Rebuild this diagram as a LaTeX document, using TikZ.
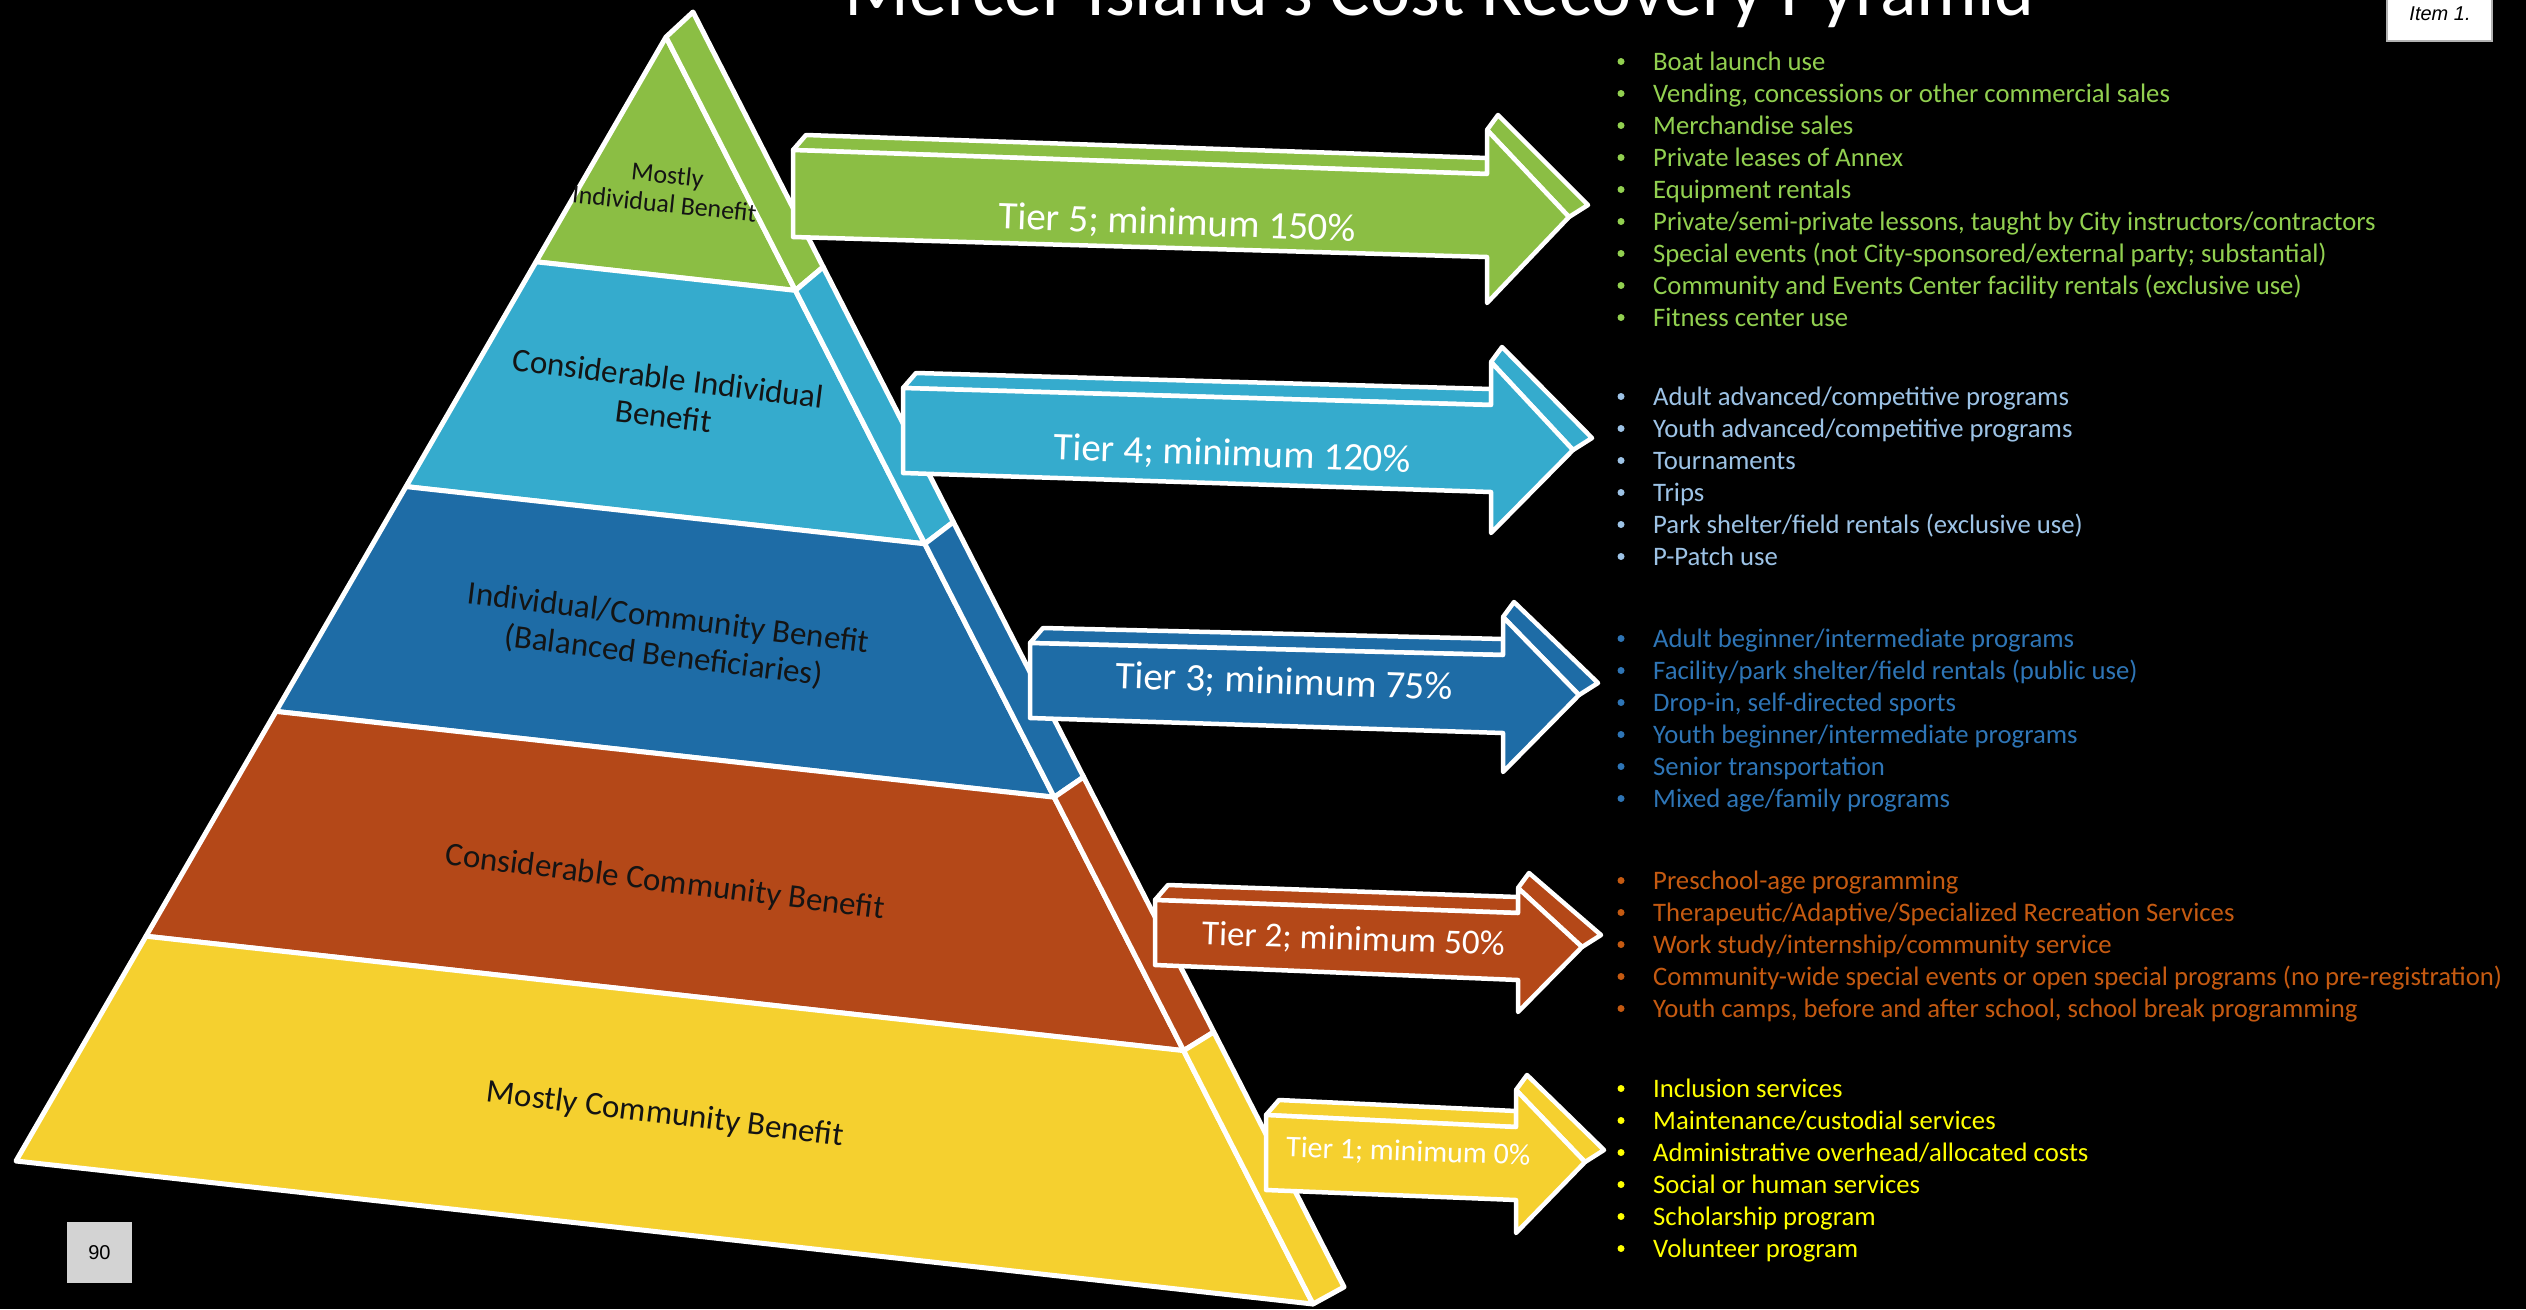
\documentclass[tikz,border=0pt]{standalone}
\usepackage{fontspec}
\setmainfont{Carlito}
\newfontfamily\arialf{Liberation Sans}
\usetikzlibrary{calc}
\definecolor{tgreen}{RGB}{139,190,68}
\definecolor{tlblue}{RGB}{53,171,205}
\definecolor{tblue}{RGB}{30,108,166}
\definecolor{torange}{RGB}{180,72,24}
\definecolor{tyellow}{RGB}{245,208,47}
\definecolor{lgreen}{RGB}{146,208,80}
\definecolor{llblue}{RGB}{157,195,230}
\definecolor{lblue}{RGB}{46,117,182}
\definecolor{lorange}{RGB}{197,90,17}
\definecolor{lyellow}{RGB}{255,255,0}
\definecolor{labeltext}{RGB}{20,20,20}
\definecolor{boxgray}{RGB}{211,211,211}
\newcommand\tierlist[4]{%
  \foreach \t [count=\i from 0] in {#3} {
    \node[bulletdot, fill=#1] (#4b\i) at (1621, #2+32*\i-8.5) {};
    \node[listitem, text=#1] (#4t\i) at (1653, #2+32*\i) {\t};
  }%
}
\begin{document}
\begin{tikzpicture}[x=1pt,y=-1pt,
  piece/.style={draw=white,line width=5pt,line join=round},
  arrowface/.style={draw=white,line width=4.5pt,line join=round},
  tierlabel/.style={text=labeltext,align=center,inner sep=0pt,rotate=-7},
  arrowlabel/.style={text=white,inner sep=0pt,anchor=base,rotate=-2},
  listitem/.style={anchor=base west,inner sep=0pt,font=\fontsize{26.7}{32}\selectfont},
  bulletdot/.style={circle,inner sep=0pt,minimum size=7pt}]
\useasboundingbox (0,0) rectangle (2526,1309);
\fill[black] (0,0) rectangle (2526,1309);

% title (cut by the top edge)
\node[anchor=base west, inner sep=0pt, text=white, font=\fontsize{76}{80}\selectfont] (title) at (844,16) {Mercer Island's Cost Recovery Pyramid};

% pyramid
\coordinate (T) at (666,37);
\coordinate (L) at (16,1161);
\coordinate (R) at (1313,1304);
\coordinate (Tb) at (693,12);
\coordinate (Rb) at (1344,1287);
\foreach \a/\b/\c in {0/0.2/tgreen, 0.2/0.4/tlblue, 0.4/0.6/tblue, 0.6/0.8/torange, 0.8/1/tyellow} {
  \filldraw[piece, fill=\c] ($(T)!\a!(L)$) -- ($(T)!\b!(L)$) -- ($(T)!\b!(R)$) -- ($(T)!\a!(R)$) -- cycle;
  \filldraw[piece, fill=\c] ($(T)!\a!(R)$) -- ($(T)!\b!(R)$) -- ($(Tb)!\b!(Rb)$) -- ($(Tb)!\a!(Rb)$) -- cycle;
}

% pyramid labels
\node[tierlabel, rotate=1, font=\fontsize{26}{29}\selectfont] (p5) at (666,189) {Mostly\\Individual Benefit};
\node[tierlabel, font=\fontsize{33}{38}\selectfont] (p4) at (666,397) {Considerable Individual\\Benefit};
\node[tierlabel, font=\fontsize{33}{38}\selectfont] (p3) at (666,638) {Individual/Community Benefit\\(Balanced Beneficiaries)};
\node[tierlabel, font=\fontsize{33}{38}\selectfont] (p2) at (665,883) {Considerable Community Benefit};
\node[tierlabel, font=\fontsize{33}{38}\selectfont] (p1) at (665,1115) {Mostly Community Benefit};

% 3D arrows
\foreach \c/\L/\TL/\BL/\R/\TR/\BR/\HT/\tx/\ty/\HB in {
  tgreen/793/150/237/1487/174/257/130/1569/217/303,
  tlblue/903/388/473/1491/405/492/362/1573/450/533,
  tblue/1030/643/718/1503/655/733/617/1579/695/772,
  torange/1155/900/965/1518/913/980/888/1582/947/1012,
  tyellow/1266/1115/1190/1516/1127/1200/1090/1585/1162/1233} {
  \filldraw[arrowface, fill=\c] (\L,\TL) -- (\L+13,\TL-15) -- (\R,\TR-16) -- (\R,\TR) -- cycle;
  \filldraw[arrowface, fill=\c] (\R,\HT) -- (\R+11,\HT-15) -- (\tx+19,\ty-12) -- (\tx,\ty) -- cycle;
  \filldraw[arrowface, fill=\c] (\L,\TL) -- (\R,\TR) -- (\R,\HT) -- (\tx,\ty) -- (\R,\HB) -- (\R,\BR) -- (\L,\BL) -- cycle;
}
\node[arrowlabel, font=\fontsize{39}{45}\selectfont] (a5) at (1177,235) {Tier 5; minimum 150\%};
\node[arrowlabel, font=\fontsize{39}{45}\selectfont] (a4) at (1232,466) {Tier 4; minimum 120\%};
\node[arrowlabel, font=\fontsize{39}{45}\selectfont] (a3) at (1284,694) {Tier 3; minimum 75\%};
\node[arrowlabel, font=\fontsize{35}{40}\selectfont] (a2) at (1353,950) {Tier 2; minimum 50\%};
\node[arrowlabel, font=\fontsize{30}{35}\selectfont] (a1) at (1408,1161) {Tier 1; minimum 0\%};

% lists
\tierlist{lgreen}{70}{Boat launch use, {Vending, concessions or other commercial sales}, Merchandise sales, Private leases of Annex, Equipment rentals, {Private/semi-private lessons, taught by City instructors/contractors}, {Special events (not City-sponsored/external party; substantial)}, Community and Events Center facility rentals (exclusive use), Fitness center use}{g}
\tierlist{llblue}{405}{Adult advanced/competitive programs, Youth advanced/competitive programs, Tournaments, Trips, Park shelter/field rentals (exclusive use), P-Patch use}{lb}
\tierlist{lblue}{647}{Adult beginner/intermediate programs, Facility/park shelter/field rentals (public use), {Drop-in, self-directed sports}, Youth beginner/intermediate programs, Senior transportation, Mixed age/family programs}{b}
\tierlist{lorange}{889}{Preschool-age programming, Therapeutic/Adaptive/Specialized Recreation Services, Work study/internship/community service, Community-wide special events or open special programs (no pre-registration), {Youth camps, before and after school, school break programming}}{o}
\tierlist{lyellow}{1097}{Inclusion services, Maintenance/custodial services, Administrative overhead/allocated costs, Social or human services, Scholarship program, Volunteer program}{y}

% page number box and item box
\node[fill=boxgray, minimum width=65pt, minimum height=61pt, inner sep=0pt, font=\arialf\fontsize{20}{24}\selectfont] (pg) at (99.5,1252.5) {90};
\node[fill=white, draw=gray!60, line width=1.5pt, minimum width=105pt, minimum height=50pt, inner sep=0pt] (itembox) at (2439.5,16) {};
\node[anchor=base, inner sep=0pt, font=\arialf\itshape\fontsize{20}{24}\selectfont] (itemtxt) at (2440,20) {Item 1.};
\end{tikzpicture}
\end{document}
